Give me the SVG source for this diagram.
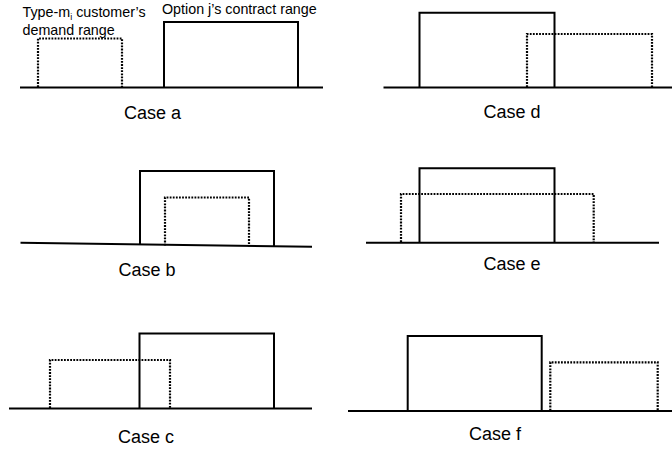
<svg xmlns="http://www.w3.org/2000/svg" width="672" height="452" viewBox="0 0 672 452">
<style>
.base{stroke:#000;stroke-width:2;fill:none}
.solid{stroke:#000;stroke-width:2;fill:none}
.dot{stroke:#000;stroke-width:2.2;fill:none;stroke-dasharray:1.8 1.3}
.lbl{font-family:"Liberation Sans",Arial,sans-serif;font-size:14.3px;fill:#000}
.cap{font-family:"Liberation Sans",Arial,sans-serif;font-size:18px;fill:#000;text-anchor:middle}
</style>
<rect width="672" height="452" fill="#fff"/>
<g id="case-a">
<line class="base" x1="20" y1="87.5" x2="323" y2="87.5"/>
<polyline class="dot" points="38,87 38,38.5 122,38.5 122,87"/>
<polyline class="solid" points="164,87 164,22 298,22 298,87"/>
<text class="lbl" x="22.5" y="16.5">Type-m<tspan font-size="9" dy="3">i</tspan><tspan dy="-3"> customer’s</tspan></text>
<text class="lbl" x="22.5" y="35">demand range</text>
<text class="lbl" x="162" y="13.5">Option j’s contract range</text>
<text class="cap" x="152.5" y="119">Case a</text>
</g>
<g id="case-b">
<line class="base" x1="20.5" y1="242.7" x2="312" y2="246.7"/>
<polyline class="dot" points="165,245.5 165,197.5 249,197.5 249,246.5"/>
<polyline class="solid" points="140,244.8 140,171 274,171 274,246.5"/>
<text class="cap" x="147" y="276">Case b</text>
</g>
<g id="case-c">
<line class="base" x1="9" y1="408.5" x2="312" y2="408.5"/>
<polyline class="dot" points="50,408 50,360 170,360 170,408"/>
<polyline class="solid" points="139.5,408 139.5,333.5 274,333.5 274,408"/>
<text class="cap" x="146" y="442.5">Case c</text>
</g>
<g id="case-d">
<line class="base" x1="383.5" y1="87.5" x2="672" y2="87.5"/>
<polyline class="dot" points="527,87 527,34 652,34 652,87"/>
<polyline class="solid" points="419.5,87 419.5,12.7 554.5,12.7 554.5,87"/>
<text class="cap" x="512" y="118">Case d</text>
</g>
<g id="case-e">
<line class="base" x1="366" y1="242.7" x2="659" y2="242.7"/>
<polyline class="dot" points="401,242 401,194 593.7,194 593.7,242"/>
<polyline class="solid" points="419.5,242 419.5,168.3 554.5,168.3 554.5,242"/>
<text class="cap" x="512" y="270">Case e</text>
</g>
<g id="case-f">
<line class="base" x1="348" y1="411" x2="672" y2="411"/>
<polyline class="dot" points="550.3,410.5 550.3,362.3 657.7,362.3 657.7,410.5"/>
<polyline class="solid" points="407.7,410.5 407.7,336 541.7,336 541.7,410.5"/>
<text class="cap" x="495" y="440">Case f</text>
</g>
</svg>
